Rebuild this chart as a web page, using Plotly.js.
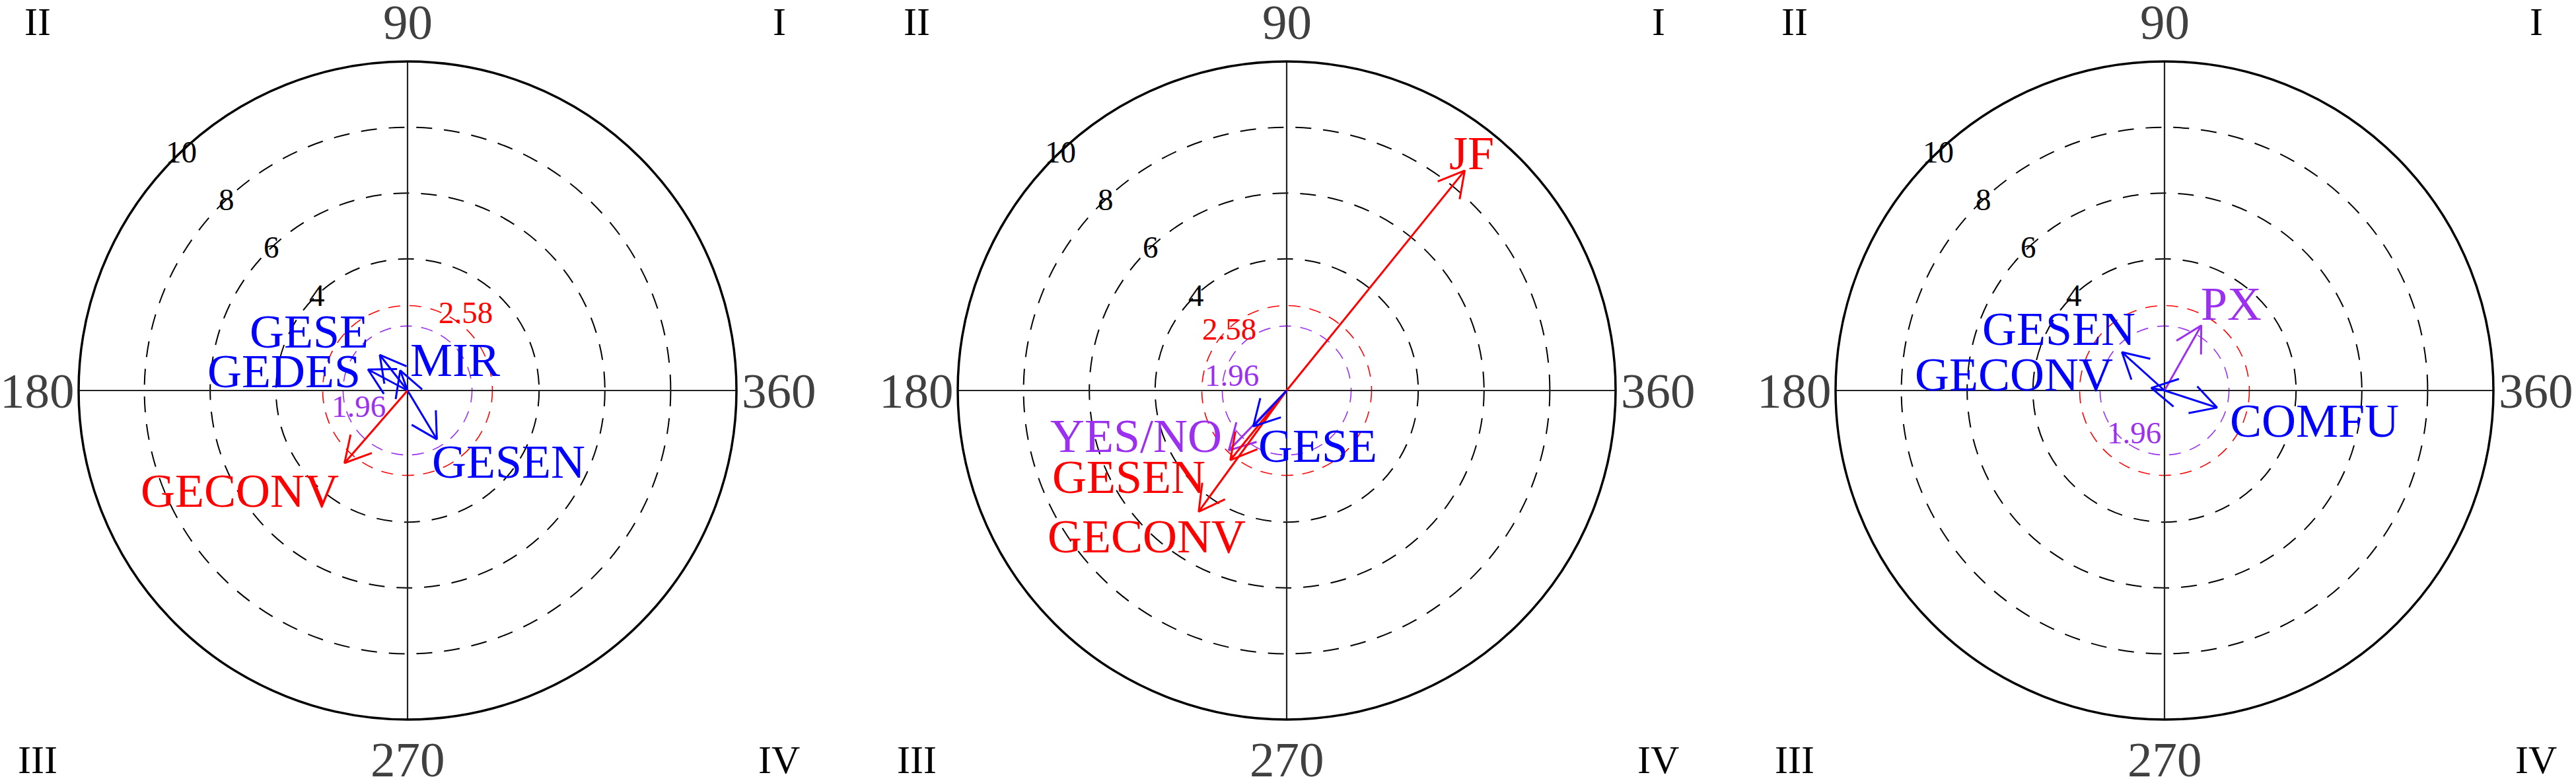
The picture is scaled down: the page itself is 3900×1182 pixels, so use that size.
<!DOCTYPE html>
<html>
<head>
<meta charset="utf-8">
<script src="https://cdn.plot.ly/plotly-3.0.1.min.js"></script>
<style>
html,body{margin:0;padding:0;background:#fff;}
#chart{width:3900px;height:1182px;}
</style>
</head>
<body>
<div id="chart"></div>
<script>
// Polar coordinate maps, three panels
// each vector: radius (Z) and angle in degrees

// Panel 1
const p1Names  = ['GESE', 'GEDES', 'MIR', 'GESEN', 'GECONV'];
const p1Radius = [1.37, 1.36, 0.65, 1.73, 2.92];
const p1Angle  = [128, 152, 110, 301, 229];

// Panel 2
const p2Names  = ['JF', 'YES/NO', 'GESEN', 'GECONV', 'GESE'];
const p2Radius = [8.6, 2.53, 2.72, 4.55, 1.49];
const p2Angle  = [51, 226, 231, 234, 227];

// Panel 3
const p3Names  = ['PX', 'GESEN', 'GECONV', 'COMFU'];
const p3Radius = [2.27, 1.74, 0.41, 1.68];
const p3Angle  = [60.5, 138, 169, 342];

// rings and labels
const gridRadii   = [4, 6, 8];
const tickValues  = [4, 6, 8, 10];
const outerRadius = 10;
const sigLevels   = [1.96, 2.58];
const angleLabels = ['90', '180', '270', '360'];
const quadLabels  = ['I', 'II', 'III', 'IV'];

// ---- layout config (positions / styles) ----
const W = 3900, H = 1182;
const pxPerUnit = 49.8;
const centersPx = [617, 1948, 3277];
const halfW = 12.3, halfH = 11.8;
const serif = 'Liberation Serif, Times New Roman, serif';

const RED = '#ff0000', PURPLE = '#9b30f0', BLUE = '#0000ff';
function sigColor(r){
  if (r > sigLevels[1]) return RED;
  if (r > sigLevels[0]) return PURPLE;
  return BLUE;
}

// arrow head: barb length (px) and half angle
const barbPx = 44, barbDeg = 29;

// label placement relative to the arrow tip (pixels)
const labelPlace = [
  [ {xa:'right', dx:-15, dy:35}, {xa:'right', dx:-9, dy:-3}, {xa:'left', dx:13, dy:16},
    {xa:'left', dx:-9, dy:-34}, {xa:'right', dx:-7, dy:-42} ],
  [ {xa:'center', dx:10, dy:26}, {xa:'right', dx:-8, dy:22}, {xa:'right', dx:-36, dy:-26},
    {xa:'center', dx:-79, dy:-38}, {xa:'left', dx:6, dy:-30} ],
  [ {xa:'left', dx:-3, dy:33}, {xa:'right', dx:22, dy:35}, {xa:'right', dx:-56, dy:20},
    {xa:'left', dx:17, dy:-20} ]
];
// positions of the 1.96 / 2.58 labels (units)
const sigLabelPos = [
  [[-1.49, -0.48], [1.77, 2.37]],
  [[-1.67, 0.46], [-1.75, 1.87]],
  [[-0.92, -1.29], null]
];
const tickAngle = 133.5;
const angPos  = [[0, 11.2], [-11.25, 0], [0, -11.22], [11.3, 0]];
const quadPos = [[11.3, 11.2], [-11.25, 11.2], [-11.25, -11.22], [11.3, -11.22]];

const panels = [
  {names: p1Names, r: p1Radius, th: p1Angle},
  {names: p2Names, r: p2Radius, th: p2Angle},
  {names: p3Names, r: p3Radius, th: p3Angle}
];

const rad = d => d * Math.PI / 180;

const layout = {
  width: W, height: H,
  margin: {l:0, r:0, t:0, b:0},
  paper_bgcolor: '#fff', plot_bgcolor: 'rgba(0,0,0,0)',
  showlegend: false,
  shapes: [], annotations: []
};

const traces = [];

panels.forEach((p, i) => {
  const n = i === 0 ? '' : String(i + 1);
  const xr = 'x' + n, yr = 'y' + n;
  const c = centersPx[i];
  const axBase = {visible:false, showgrid:false, zeroline:false, fixedrange:true};
  layout['xaxis' + n] = Object.assign({}, axBase, {
    range: [-halfW, halfW],
    domain: [(c - halfW*pxPerUnit)/W, (c + halfW*pxPerUnit)/W],
    anchor: yr
  });
  layout['yaxis' + n] = Object.assign({}, axBase, {
    range: [-halfH, halfH],
    domain: [0.5 - halfH*pxPerUnit/H, 0.5 + halfH*pxPerUnit/H],
    anchor: xr
  });

  const S = layout.shapes, A = layout.annotations;

  // dashed grid rings
  gridRadii.forEach(g => S.push({type:'circle', xref:xr, yref:yr, layer:'below',
    x0:-g, y0:-g, x1:g, y1:g, line:{color:'#000', width:2, dash:'24px,18px'}}));
  // significance rings
  sigLevels.forEach(s => S.push({type:'circle', xref:xr, yref:yr, layer:'below',
    x0:-s, y0:-s, x1:s, y1:s,
    line:{color: s === sigLevels[1] ? RED : PURPLE, width:1.6, dash:'18px,14px'}}));
  // cross axes
  S.push({type:'line', xref:xr, yref:yr, layer:'below', x0:-outerRadius, y0:0, x1:outerRadius, y1:0,
    line:{color:'#222', width:2.2}});
  S.push({type:'line', xref:xr, yref:yr, layer:'below', x0:0, y0:-outerRadius, x1:0, y1:outerRadius,
    line:{color:'#222', width:2.2}});
  // outer ring
  S.push({type:'circle', xref:xr, yref:yr, layer:'below', x0:-outerRadius, y0:-outerRadius,
    x1:outerRadius, y1:outerRadius, line:{color:'#000', width:3.5}});

  // ring value labels
  tickValues.forEach(t => A.push({xref:xr, yref:yr,
    x: t*Math.cos(rad(tickAngle)), y: t*Math.sin(rad(tickAngle)),
    text: String(t), showarrow:false, xanchor:'center', yanchor:'middle',
    font:{family:serif, size:47, color:'#000'}}));

  // significance labels
  sigLevels.forEach((s, k) => {
    const pos = sigLabelPos[i][k];
    if (!pos) return;
    A.push({xref:xr, yref:yr, x:pos[0], y:pos[1], text:String(s), showarrow:false,
      xanchor:'center', yanchor:'middle',
      font:{family:serif, size:47, color: k === 1 ? RED : PURPLE}});
  });

  // angle labels around the circle
  angleLabels.forEach((t, k) => A.push({xref:xr, yref:yr, x:angPos[k][0], y:angPos[k][1],
    text:t, showarrow:false, xanchor:'center', yanchor:'middle',
    font:{family:serif, size:75, color:'#404040'}}));
  // quadrant labels
  quadLabels.forEach((t, k) => A.push({xref:xr, yref:yr, x:quadPos[k][0], y:quadPos[k][1],
    text:t, showarrow:false, xanchor:'center', yanchor:'middle',
    font:{family:serif, size:60, color:'#000'}}));

  // vectors: shaft + two barbs, one trace each
  const L = barbPx / pxPerUnit;
  p.r.forEach((r, j) => {
    const th = rad(p.th[j]);
    const tx = r*Math.cos(th), ty = r*Math.sin(th);
    const b1 = th + Math.PI - rad(barbDeg), b2 = th + Math.PI + rad(barbDeg);
    const col = sigColor(r);
    traces.push({
      x: [0, tx, null, tx + L*Math.cos(b1), tx, tx + L*Math.cos(b2)],
      y: [0, ty, null, ty + L*Math.sin(b1), ty, ty + L*Math.sin(b2)],
      xaxis: xr, yaxis: yr, mode: 'lines', cliponaxis: false,
      line: {color: col, width: 3}, hoverinfo: 'skip'
    });
    const lp = labelPlace[i][j];
    A.push({xref:xr, yref:yr, x:tx, y:ty, text:p.names[j], showarrow:false,
      xanchor:lp.xa, yanchor:'middle', xshift:lp.dx, yshift:lp.dy,
      font:{family:serif, size:72, color:col}});
  });
});

Plotly.newPlot('chart', traces, layout, {staticPlot:true, displayModeBar:false});
</script>
</body>
</html>
